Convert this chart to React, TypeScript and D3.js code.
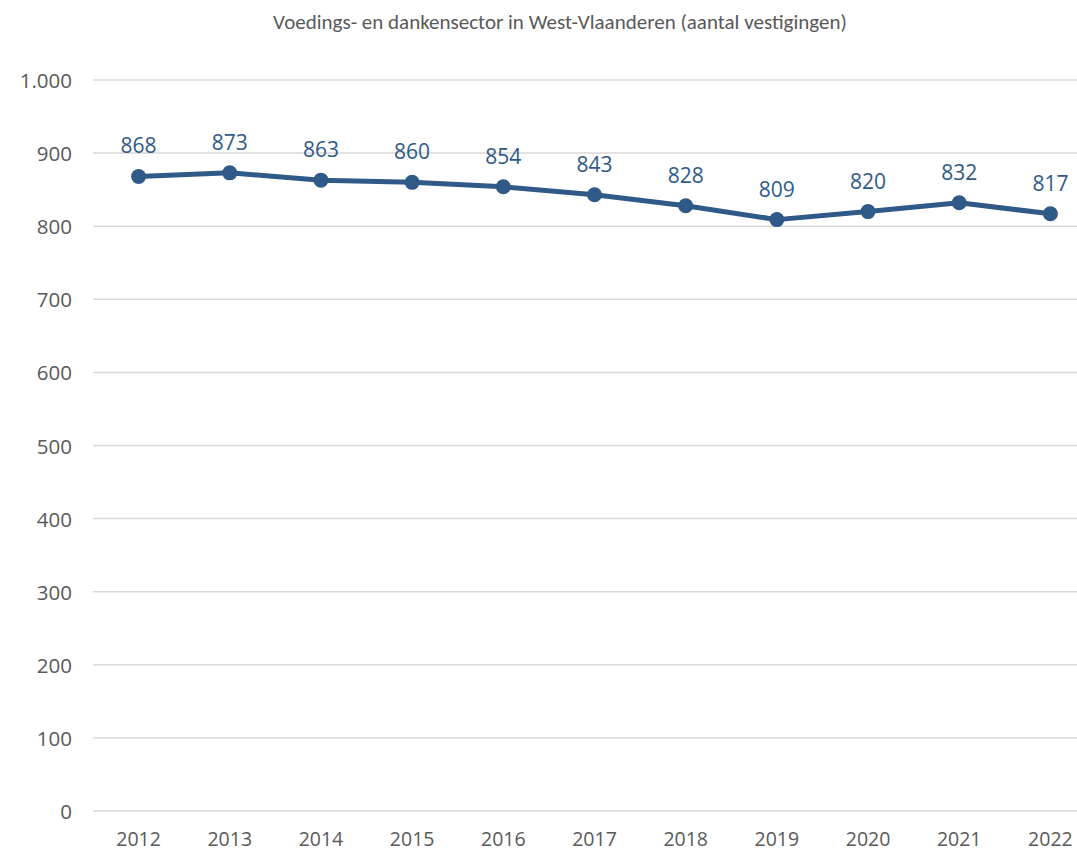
import React from "react";
import * as d3 from "d3";

const years = ["2012", "2013", "2014", "2015", "2016", "2017", "2018", "2019", "2020", "2021", "2022"];
const values = [868, 873, 863, 860, 854, 843, 828, 809, 820, 832, 817];
const yTicks = [0, 100, 200, 300, 400, 500, 600, 700, 800, 900, 1000];
const title = "Voedings- en dankensector in West-Vlaanderen (aantal vestigingen)";

const W = 1077;
const H = 853;
const TITLE_FONT = "Carlito, Calibri, 'Open Sans', sans-serif";
const FONT = "'Open Sans', sans-serif";
const BLUE = "#2F5A88";

const App = () => {
  const x = d3.scalePoint<string>().domain(years).range([93, 1096]).padding(0.5);
  const y = d3.scaleLinear().domain([0, 1000]).range([811, 80]);
  const line = d3
    .line<number>()
    .x((_, i) => x(years[i]) as number)
    .y(d => y(d));
  const fmt = (v: number) => d3.format(",")(v).replace(",", ".");

  return (
    <svg width={W} height={H} style={{position: "absolute", left: 0, top: 0, background: "#fff"}}>
      <text x={560} y={22} textAnchor="middle" dominantBaseline="central"
            fontFamily={TITLE_FONT} fontSize={21} fill="#595959">{title}</text>
      {yTicks.map(t => (
        <g key={t}>
          <line x1={93} x2={W} y1={y(t)} y2={y(t)} stroke="#d9d9d9" strokeWidth={1.5}/>
          <text x={72} y={y(t)} textAnchor="end" dominantBaseline="central"
                fontFamily={FONT} fontSize={20.5} fill="#595959">{fmt(t)}</text>
        </g>
      ))}
      {years.map(yr => (
        <text key={yr} x={x(yr)} y={846} textAnchor="middle"
              fontFamily={FONT} fontSize={19.5} fill="#595959">{yr}</text>
      ))}
      <path d={line(values) || ""} fill="none" stroke={BLUE} strokeWidth={5} strokeLinejoin="round"/>
      {values.map((v, i) => (
        <g key={i}>
          <circle cx={x(years[i])} cy={y(v)} r={7.5} fill={BLUE}/>
          <text x={x(years[i])} y={y(v) - 31} textAnchor="middle" dominantBaseline="central"
                fontFamily={FONT} fontSize={21} fill={BLUE}>{v}</text>
        </g>
      ))}
    </svg>
  );
};

export default App;
